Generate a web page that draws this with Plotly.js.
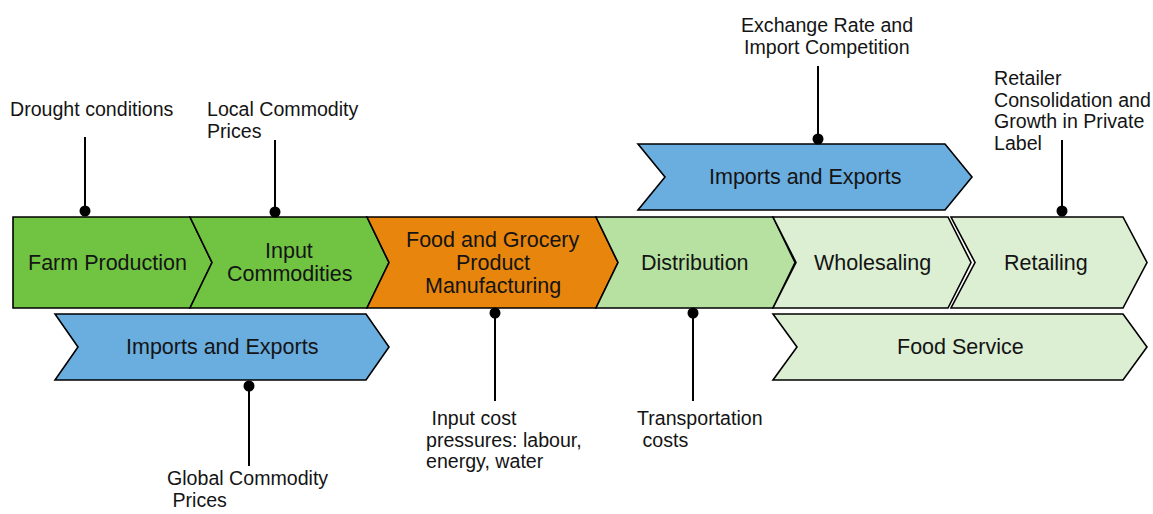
<!DOCTYPE html>
<html>
<head>
<meta charset="utf-8">
<script src="https://cdn.plot.ly/plotly-3.0.1.min.js"></script>
<style>html,body{margin:0;padding:0;background:#fff;}#chart{width:1153px;height:514px;}</style>
</head>
<body>
<div id="chart"></div>
<script>
// ---- content ----
var stageLabels = ["Farm Production", "Input<br>Commodities", "Food and Grocery<br>Product<br>Manufacturing", "Distribution", "Wholesaling", "Retailing"];
var bandLabels = ["Imports and Exports", "Imports and Exports", "Food Service"];
var calloutLabels = [
  "Drought conditions",
  "Local Commodity<br>Prices",
  "Exchange Rate and<br>Import Competition",
  "Retailer<br>Consolidation and<br>Growth in Private<br>Label",
  "Global Commodity<br> Prices",
  " Input cost<br>pressures: labour,<br>energy, water",
  "Transportation<br> costs"
];

// ---- geometry (pixel-like diagram units) ----
var stageX0 = [13, 190, 367, 596, 773, 951];
var stageX1 = [190, 367, 596, 773, 948, 1123];
var stageTip = [22, 22, 22, 22, 23, 24];
var stageNotch = [false, true, true, true, true, true];
var stageTextX = [107, 289, 493, 695, 872, 1046];
var stageTop = 217, stageBottom = 308;

var bandX0 = [55, 638, 773];
var bandX1 = [366, 945, 1123];
var bandTip = [23, 27, 24];
var bandTop = [314, 144, 314];
var bandBottom = [380, 210, 380];
var bandTextX = [222, 805, 960];

var dotX = [85, 275, 818, 1062, 249, 495, 693];
var dotY = [211, 212, 139, 211, 386, 313, 313];
var stemEndY = [137, 140, 66, 140, 466, 401, 401];
var textX = [8, 205, 827, 992, 165, 424, 635];
var textY0 = [109, 109, 25, 78, 478, 418, 418];
var textAlign = ["left", "left", "center", "left", "left", "left", "left"];

// ---- styles ----
var stageFill = ["#71C441", "#71C441", "#E8850C", "#B7E1A1", "#DCEFD2", "#DCEFD2"];
var bandFill = ["#6AADDF", "#6AADDF", "#DCEFD2"];
var FONT = "Liberation Sans, Arial, sans-serif";
var TXT = "#141414";

function chevron(x0, x1, top, bot, tip, notch) {
  var mid = (top + bot) / 2;
  var p = "M" + x0 + "," + top + " L" + x1 + "," + top + " L" + (x1 + tip) + "," + mid +
          " L" + x1 + "," + bot + " L" + x0 + "," + bot;
  if (notch) p += " L" + (x0 + tip) + "," + mid;
  return p + " Z";
}

var shapes = [], annotations = [];
function addLines(text, x, yc, spacing, size, align) {
  var lines = text.split("<br>");
  var n = lines.length;
  lines.forEach(function (ln, i) {
    annotations.push({
      x: x, y: yc + (i - (n - 1) / 2) * spacing, xref: "x", yref: "y",
      text: ln, showarrow: false, xanchor: align, yanchor: "middle",
      font: {family: FONT, size: size, color: TXT}
    });
  });
}

stageLabels.forEach(function (lab, i) {
  shapes.push({type: "path", xref: "x", yref: "y",
    path: chevron(stageX0[i], stageX1[i], stageTop, stageBottom, stageTip[i], stageNotch[i]),
    fillcolor: stageFill[i], line: {color: "#000", width: 1.6}, layer: "below"});
  addLines(lab, stageTextX[i], (stageTop + stageBottom) / 2, 23, 21.5, "center");
});
bandLabels.forEach(function (lab, i) {
  shapes.push({type: "path", xref: "x", yref: "y",
    path: chevron(bandX0[i], bandX1[i], bandTop[i], bandBottom[i], bandTip[i], true),
    fillcolor: bandFill[i], line: {color: "#000", width: 1.6}, layer: "below"});
  addLines(lab, bandTextX[i], (bandTop[i] + bandBottom[i]) / 2, 23, 21.5, "center");
});
calloutLabels.forEach(function (lab, i) {
  shapes.push({type: "line", xref: "x", yref: "y", x0: dotX[i], x1: dotX[i], y0: dotY[i], y1: stemEndY[i],
    line: {color: "#000", width: 2}});
  var lines = lab.split("<br>");
  lines.forEach(function (ln, j) {
    annotations.push({
      x: textX[i], y: textY0[i] + j * 21.7, xref: "x", yref: "y",
      text: ln, showarrow: false, xanchor: textAlign[i], yanchor: "middle",
      font: {family: FONT, size: 19.6, color: TXT}
    });
  });
});

var dots = {
  type: "scatter", mode: "markers", x: dotX, y: dotY,
  marker: {color: "#000", size: 11}, hoverinfo: "skip", showlegend: false
};

var layout = {
  width: 1153, height: 514,
  margin: {l: 0, r: 0, t: 0, b: 0},
  paper_bgcolor: "#fff", plot_bgcolor: "#fff",
  xaxis: {range: [0, 1153], visible: false, fixedrange: true},
  yaxis: {range: [514, 0], visible: false, fixedrange: true},
  shapes: shapes, annotations: annotations, showlegend: false
};
Plotly.newPlot("chart", [dots], layout, {displayModeBar: false, staticPlot: true});
</script>
</body>
</html>
